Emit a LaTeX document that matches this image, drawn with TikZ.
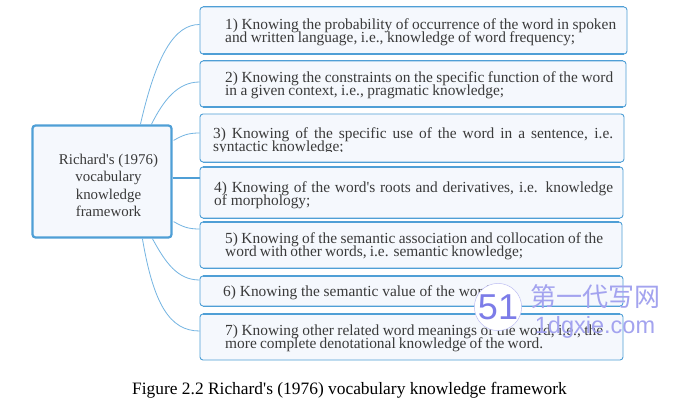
\documentclass[tikz,border=0pt]{standalone}
\usepackage{fontspec}
\setmainfont[Ligatures=TeXOff]{Liberation Serif}
\newfontfamily\cjkwm{Noto Sans CJK SC}
\newfontfamily\wmlatin{Liberation Sans}
\usetikzlibrary{calc}
\definecolor{edgeblue}{HTML}{4F9FD6}
\definecolor{lineblue}{HTML}{74B5E2}
\definecolor{boxfill}{HTML}{F5F8FD}
\definecolor{bodytext}{HTML}{3A3A3A}
\definecolor{wmblue}{HTML}{7C7CE8}
\newcommand{\ljust}[2]{\makebox[#1pt][s]{#2}}
\newcommand{\thickedge}[2]{\draw[edgeline] ($(#1.#2 west)+(3,0)$) -- ($(#1.#2 east)+(-3,0)$);}
\newcommand{\tightleaffont}{\fontsize{15.4}{13}\selectfont\lineskiplimit=-30pt\relax}
\tikzset{
  x=1pt,y=-1pt,
  leafbox/.style={draw=edgeblue,fill=boxfill,line width=0.9pt,rounded corners=3pt,inner sep=0pt},
  rootbox/.style={draw=edgeblue,fill=boxfill,line width=2.2pt,rounded corners=3pt,inner sep=0pt,minimum width=139pt,minimum height=112pt},
  leaftext/.style={anchor=west,inner sep=0pt,text=bodytext,font=\tightleaffont,align=left},
  roottext/.style={anchor=center,inner sep=0pt,text=bodytext,font=\fontsize{14.9}{17.5}\selectfont,align=center},
  edgeline/.style={edgeblue,line width=1.9pt},
  conn/.style={lineblue,line width=0.8pt},
  connmain/.style={edgeblue,line width=1.8pt},
  captiontext/.style={inner sep=0pt,text=black,font=\fontsize{17.4}{18}\selectfont},
}
\begin{document}
\begin{tikzpicture}
\useasboundingbox (0,0) rectangle (677,409);
\fill[white] (0,0) rectangle (677,409);
% boxes
\node[leafbox,minimum width=427pt,minimum height=47pt] (b1) at (413.5,30.5) {};
\node[leafbox,minimum width=426pt,minimum height=46pt] (b2) at (413,84) {};
\node[leafbox,minimum width=424pt,minimum height=48pt] (b3) at (412,138) {};
\node[leafbox,minimum width=423pt,minimum height=51pt] (b4) at (411.5,192.5) {};
\node[leafbox,minimum width=422pt,minimum height=46pt] (b5) at (411,245) {};
\node[leafbox,minimum width=423pt,minimum height=30pt] (b6) at (411.5,291) {};
\node[leafbox,minimum width=423pt,minimum height=46pt] (b7) at (411.5,337) {};
\node[rootbox] (root) at (102,181.5) {};
% heavier edges
\thickedge{b1}{north}\thickedge{b1}{south}
\thickedge{b2}{north}\thickedge{b2}{south}
\thickedge{b3}{south}
\thickedge{b4}{north}\thickedge{b4}{south}
\thickedge{b5}{north}\thickedge{b5}{south}
\thickedge{b6}{north}\thickedge{b6}{south}
\thickedge{b7}{north}
% connectors
\draw[conn] ($(root.north west)+(109,0)$) .. controls ($(root.north west)+(125,-70)$) and ($(b1.west)+(-25,-6)$) .. ($(b1.west)+(0,-6)$);
\draw[conn] ($(root.north west)+(120,0)$) .. controls ($(root.north west)+(132,-24)$) and ($(b2.west)+(-22,-2)$) .. ($(b2.west)+(0,-2)$);
\draw[conn] ($(root.north east)+(1,16)$) .. controls ($(root.north east)+(10,11)$) and ($(b3.west)+(-12,-5)$) .. ($(b3.west)+(0,-5)$);
\draw[connmain] (root.east |- b4.west) ++(0,-14.5) -- ($(b4.west)+(0,-14.5)$);
\draw[conn] ($(root.south east)+(1,-17)$) .. controls ($(root.south east)+(10,-12)$) and ($(b5.west)+(-12,-16)$) .. ($(b5.west)+(0,-16)$);
\draw[conn] ($(root.south west)+(121,0)$) .. controls ($(root.south west)+(134,24)$) and ($(b6.west)+(-22,-11)$) .. ($(b6.west)+(0,-11)$);
\draw[conn] ($(root.south west)+(111,0)$) .. controls ($(root.south west)+(122,65)$) and ($(b7.west)+(-30,-6)$) .. ($(b7.west)+(0,-6)$);
% texts
\node[roottext] (rt) at (108.5,185.5) {Richard's (1976)\\vocabulary\\knowledge\\framework};
\node[leaftext] (t1) at (225,32) {\ljust{391}{1) Knowing the probability of occurrence of the word in spoken}\\\ljust{350}{and written language, i.e., knowledge of word frequency;}};
\node[leaftext] (t2) at (225,85) {\ljust{388}{2) Knowing the constraints on the specific function of the word}\\\ljust{279}{in a given context, i.e., pragmatic knowledge;}};
\begin{scope}
\clip (205,118) rectangle (620,151);
\node[leaftext] (t3) at (213,141) {\ljust{400}{3) Knowing of the specific use of the word in a sentence, i.e.}\\syntactic knowledge;};
\end{scope}
\node[leaftext] (t4) at (214,195) {\ljust{399}{4) Knowing of the word's roots and derivatives, i.e. knowledge}\\of morphology;};
\node[leaftext] (t5) at (225,246.5) {\ljust{378}{5) Knowing of the semantic association and collocation of the}\\\ljust{298}{word with other words, i.e. semantic knowledge;}};
\node[leaftext] (t6) at (223,292.5) {6) Knowing the semantic value of the word;};
\node[leaftext] (t7) at (225,338) {\ljust{378}{7) Knowing other related word meanings of the word, i.e., the}\\\ljust{318}{more complete denotational knowledge of the word.}};
\node[captiontext] (cap) at (349.5,390.5) {Figure 2.2 Richard's (1976) vocabulary knowledge framework};
% site mark
\node[circle,draw=wmblue!50,fill=white,line width=0.5pt,minimum size=44pt,inner sep=0pt,text=wmblue,font=\wmlatin\fontsize{36}{36}\selectfont] (wm) at (498,307) {51};
\node[inner sep=0pt,text=wmblue!70,font=\cjkwm\fontsize{26}{26}\selectfont] (wm1) at (595,296.5) {第一代写网};
\node[inner sep=0pt,text=wmblue!70,font=\wmlatin\fontsize{23.5}{24}\selectfont] (wm2) at (595,327) {1dgxie.com};
\end{tikzpicture}
\end{document}
